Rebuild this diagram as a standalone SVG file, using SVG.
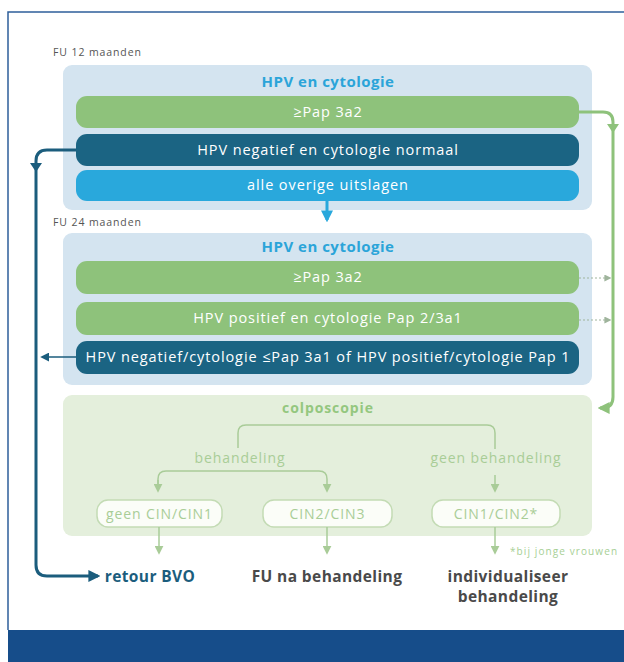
<svg xmlns="http://www.w3.org/2000/svg" width="624" height="662" viewBox="0 0 624 662">
<defs>
<style>
.t{font-family:"Open Sans","Liberation Sans",sans-serif}
.bar{font-family:"Open Sans","Liberation Sans",sans-serif;font-size:14.5px;letter-spacing:0.9px;fill:#ffffff;text-anchor:middle}
.title{font-family:"Open Sans","Liberation Sans",sans-serif;font-size:15px;letter-spacing:0.5px;font-weight:bold;fill:#2ba4d9;text-anchor:middle}
.fu{font-family:"Open Sans","Liberation Sans",sans-serif;font-size:10.5px;fill:#555;letter-spacing:0.9px}
.gtxt{font-family:"Open Sans","Liberation Sans",sans-serif;font-size:14px;letter-spacing:0.9px;fill:#a9cd97;text-anchor:middle}
.btxt{font-family:"Open Sans","Liberation Sans",sans-serif;font-size:15.5px;letter-spacing:0.4px;font-weight:bold;text-anchor:middle}
.panelB{fill:#d4e4f0}
.green{fill:#8ec27b}
.dark{fill:#1b6483}
.light{fill:#29a8dc}
.box{fill:#fbfdf8;stroke:#c3dbb4;stroke-width:1.5}
.gl{fill:none;stroke:#a9cc98;stroke-width:1.5}
</style>
<marker id="aDark" viewBox="0 0 10 10" refX="8" refY="5" markerWidth="4" markerHeight="4" orient="auto" markerUnits="strokeWidth"><path d="M0,0 L10,5 L0,10 z" fill="#1b5d7d"/></marker>
<marker id="aDarkS" viewBox="0 0 10 10" refX="8" refY="5" markerWidth="6" markerHeight="6" orient="auto" markerUnits="strokeWidth"><path d="M0,0 L10,5 L0,10 z" fill="#1b5d7d"/></marker>
<marker id="aBlue" viewBox="0 0 10 10" refX="8" refY="5" markerWidth="4" markerHeight="4" orient="auto" markerUnits="strokeWidth"><path d="M0,0 L10,5 L0,10 z" fill="#29a8dc"/></marker>
<marker id="aGreen" viewBox="0 0 10 10" refX="8" refY="5" markerWidth="4" markerHeight="4" orient="auto" markerUnits="strokeWidth"><path d="M0,0 L10,5 L0,10 z" fill="#8ec27b"/></marker>
<marker id="aGray" viewBox="0 0 10 10" refX="8" refY="5" markerWidth="7" markerHeight="7" orient="auto" markerUnits="strokeWidth"><path d="M0,0 L10,5 L0,10 z" fill="#9fb49c"/></marker>
<marker id="aLg" viewBox="0 0 10 10" refX="8" refY="5" markerWidth="6" markerHeight="6" orient="auto" markerUnits="strokeWidth"><path d="M0,0 L10,5 L0,10 z" fill="#a9cc98"/></marker>
</defs>

<rect width="624" height="662" fill="#ffffff"/>
<!-- frame -->
<path d="M8,630 V12 H624" fill="none" stroke="#2e5f9a" stroke-width="1.5"/>
<rect x="8" y="630" width="616" height="32" fill="#164d8a"/>

<text class="fu" x="53" y="56">FU 12 maanden</text>
<text class="fu" x="53" y="226">FU 24 maanden</text>

<!-- panel 12 months -->
<g id="panel12">
<rect class="panelB" x="63" y="65" width="529" height="145" rx="9"/>
<text class="title" x="328" y="87">HPV en cytologie</text>
</g>
<g id="n12_pap">
<rect class="green" x="76" y="96" width="503" height="32" rx="11"/>
<text class="bar" x="328" y="117">≥Pap 3a2</text>
</g>
<g id="n12_neg">
<rect class="dark" x="76" y="134" width="503" height="32" rx="11"/>
<text class="bar" x="328" y="155">HPV negatief en cytologie normaal</text>
</g>
<g id="n12_rest">
<rect class="light" x="76" y="170" width="503" height="31" rx="11"/>
<text class="bar" x="328" y="190">alle overige uitslagen</text>
</g>

<!-- panel 24 months -->
<g id="panel24">
<rect class="panelB" x="63" y="233" width="529" height="152" rx="9"/>
<text class="title" x="328" y="252">HPV en cytologie</text>
</g>
<g id="n24_pap">
<rect class="green" x="76" y="261" width="503" height="33" rx="11"/>
<text class="bar" x="328" y="282">≥Pap 3a2</text>
</g>
<g id="n24_pos">
<rect class="green" x="76" y="302" width="503" height="33" rx="11"/>
<text class="bar" x="328" y="323">HPV positief en cytologie Pap 2/3a1</text>
</g>
<g id="n24_neg">
<rect class="dark" x="76" y="341" width="503" height="33" rx="11"/>
<text class="bar" x="328" y="362">HPV negatief/cytologie ≤Pap 3a1 of HPV positief/cytologie Pap 1</text>
</g>

<!-- colposcopie panel -->
<g id="colpo">
<rect x="63" y="395" width="529" height="141" rx="9" fill="#e4efdc"/>
<text class="gtxt" x="328" y="413" font-weight="bold" style="fill:#94c77f">colposcopie</text>
<text class="gtxt" x="240" y="463">behandeling</text>
<text class="gtxt" x="496" y="463">geen behandeling</text>
</g>
<g id="b1">
<rect class="box" x="97" y="500" width="125" height="27" rx="11"/>
<text class="gtxt" x="159.5" y="518.5">geen CIN/CIN1</text>
</g>
<g id="b2">
<rect class="box" x="263" y="500" width="129" height="27" rx="11"/>
<text class="gtxt" x="327.5" y="518.5">CIN2/CIN3</text>
</g>
<g id="b3">
<rect class="box" x="432" y="500" width="128" height="27" rx="11"/>
<text class="gtxt" x="496" y="518.5">CIN1/CIN2*</text>
</g>

<!-- outcomes -->
<g id="o1"><text class="btxt" x="150" y="582" fill="#1b5d7d">retour BVO</text></g>
<g id="o2"><text class="btxt" x="327" y="582" fill="#4a4a4a">FU na behandeling</text></g>
<g id="o3"><text class="btxt" x="508" y="582" fill="#4a4a4a">individualiseer</text><text class="btxt" x="508" y="602" fill="#4a4a4a">behandeling</text></g>
<text class="t" x="510" y="555" font-size="10" letter-spacing="1.1" fill="#a6cf95">*bij jonge vrouwen</text>

<!-- connectors -->
<g id="connectors">
<path d="M76,150 H47 Q36,150 36,161 V565 Q36,576 47,576 H98" fill="none" stroke="#1b5d7d" stroke-width="3" marker-end="url(#aDark)"/>
<path d="M30,163 L42,163 L36,172 z" fill="#1b5d7d"/>
<path d="M76,357 H42" fill="none" stroke="#1b5d7d" stroke-width="1.5" marker-end="url(#aDarkS)"/>
<path d="M327,201 V220" fill="none" stroke="#29a8dc" stroke-width="3" marker-end="url(#aBlue)"/>
<path d="M579,112 H603 Q613,112 613,122 V397 Q613,408 602,408 H600" fill="none" stroke="#8ec27b" stroke-width="3" marker-end="url(#aGreen)"/>
<path d="M607,124 L619,124 L613,133 z" fill="#8ec27b"/>
<path d="M579,278 H610" fill="none" stroke="#9fb49c" stroke-width="1" stroke-dasharray="2,2" marker-end="url(#aGray)"/>
<path d="M579,320 H610" fill="none" stroke="#9fb49c" stroke-width="1" stroke-dasharray="2,2" marker-end="url(#aGray)"/>
<path class="gl" d="M238,448 V433 Q238,425 246,425 H487 Q495,425 495,433 V449"/>
<path class="gl" d="M495,475 V491" marker-end="url(#aLg)"/>
<path class="gl" d="M158,491 V479 Q158,471 166,471 H319 Q327,471 327,479 V491" marker-end="url(#aLg)"/>
<path class="gl" d="M158,480 V491" marker-end="url(#aLg)"/>
<path class="gl" d="M159,527 V553" marker-end="url(#aLg)"/>
<path class="gl" d="M327,527 V553" marker-end="url(#aLg)"/>
<path class="gl" d="M495,527 V553" marker-end="url(#aLg)"/>
</g>
</svg>
